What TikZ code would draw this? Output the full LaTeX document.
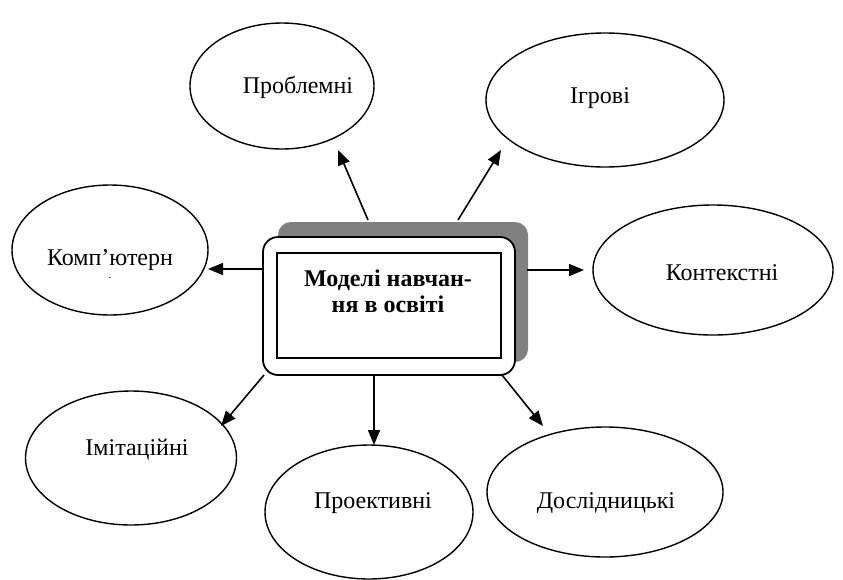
\documentclass[tikz,border=0pt]{standalone}
\usepackage{fontspec}
\setmainfont{Liberation Serif}
\usetikzlibrary{shapes.geometric,arrows.meta}
\begin{document}
\begin{tikzpicture}[x=1pt,y=-1pt,
  model/.style={draw,ellipse,line width=1.4pt,inner sep=0pt},
  label/.style={font=\fontsize{24}{28}\selectfont,inner sep=0pt},
  link/.style={line width=1.6pt,-{Triangle[length=15pt,width=12pt]}}]
\useasboundingbox (0,0) rectangle (843,579);

% central block: shadow, rounded frame and inner frame
\fill[black!50,rounded corners=13pt] (278,222) rectangle (528,362);
\node[draw,fill=white,line width=1.8pt,rounded corners=15pt,minimum width=252pt,minimum height=138pt] (box) at (389,306) {};
\node[draw,line width=1.8pt,minimum width=224pt,minimum height=105pt] (inner) at (389,305.5) {};
\node[font=\fontsize{24}{26}\selectfont\bfseries,align=center,inner sep=0pt] (title) at (388,291) {Моделі навчан-\\ня в освіті};

% model ellipses
\node[model,minimum width=184pt,minimum height=126pt] (e1) at (282,86) {};
\node[model,minimum width=238pt,minimum height=134pt] (e2) at (605,100) {};
\node[model,minimum width=240pt,minimum height=130pt] (e3) at (713,270) {};
\node[model,minimum width=196pt,minimum height=130pt] (e4) at (110,250) {};
\node[model,minimum width=211pt,minimum height=134pt] (e5) at (131,458) {};
\node[model,minimum width=208pt,minimum height=134pt] (e6) at (369,512) {};
\node[model,minimum width=236pt,minimum height=130pt] (e7) at (605,492) {};

\node[label] (t1) at (298,87) {Проблемні};
\node[label] (t2) at (600,98) {Ігрові};
\node[label] (t3) at (722,273) {Контекстні};
\node[label] (t4) at (110,260) {Комп’ютерн};
\node[font=\fontsize{12}{12}\selectfont,inner sep=0pt] (t4b) at (110,278) {.};
\node[label] (t5) at (137,450) {Імітаційні};
\node[label] (t6) at (373,503) {Проективні};
\node[label] (t7) at (606,503) {Дослідницькі};

% arrow ends
\coordinate (s1) at (368,220); \coordinate (a1) at (338,150);
\coordinate (s2) at (458,220); \coordinate (a2) at (501,150);
\coordinate (s3) at (527,270); \coordinate (a3) at (584,270);
\coordinate (s4) at (263,269); \coordinate (a4) at (208,269);
\coordinate (s5) at (264,375); \coordinate (a5) at (221,426);
\coordinate (s6) at (374,375); \coordinate (a6) at (374,445);
\coordinate (s7) at (502,375); \coordinate (a7) at (543,426);

\draw[link] (s1) -- (a1);
\draw[link] (s2) -- (a2);
\draw[link] (s3) -- (a3);
\draw[link] (s4) -- (a4);
\draw[link] (s5) -- (a5);
\draw[link] (s6) -- (a6);
\draw[link] (s7) -- (a7);
\end{tikzpicture}
\end{document}
